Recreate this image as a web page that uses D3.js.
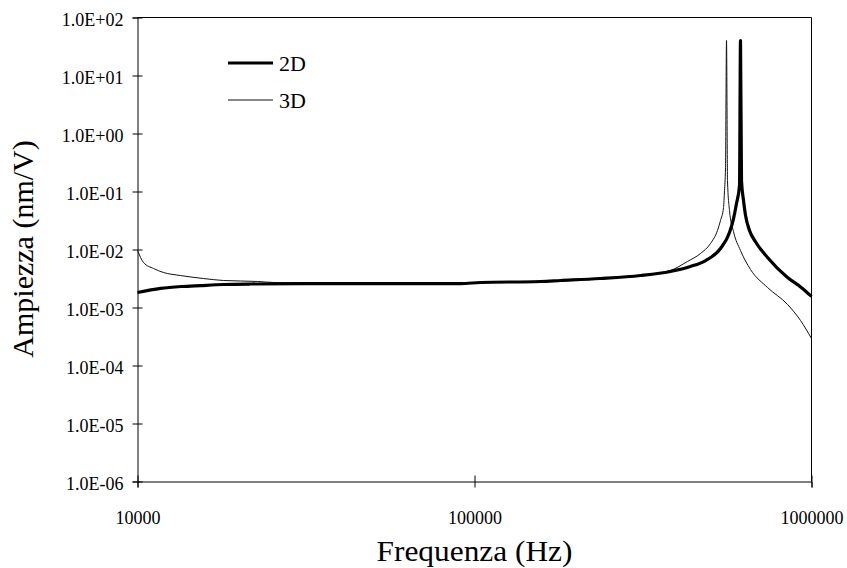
<!DOCTYPE html>
<html>
<head>
<meta charset="utf-8">
<script src="https://cdn.jsdelivr.net/npm/d3@7"></script>
<style>
  html, body { margin: 0; padding: 0; background: #fff; }
  svg { display: block; }
  text { font-family: "Liberation Serif", "Times New Roman", serif; fill: #000; }
</style>
</head>
<body>
<svg id="chart" width="847" height="568"></svg>
<script>
// ---- data ----
const freq2D = [10000, 11700, 13500, 15400, 18000, 21600, 37400, 90900, 104000, 157000, 180000,
  236000, 311000, 381000, 437000, 485000, 537000, 571000, 587000, 599000, 611500, 615600,
  619800, 628400, 637200, 654700, 682100, 740500, 848800, 932000, 1000000];
const amp2D = [1.81e-3, 2.13e-3, 2.30e-3, 2.39e-3, 2.49e-3, 2.54e-3, 2.59e-3, 2.59e-3, 2.70e-3, 2.81e-3, 2.92e-3,
  3.16e-3, 3.56e-3, 4.18e-3, 5.09e-3, 6.46e-3, 1.04e-2, 1.96e-2, 3.42e-2, 6.21e-2, 0.127, 40,
  0.155, 0.070, 0.0386, 0.0213, 0.0136, 7.28e-3, 3.29e-3, 2.22e-3, 1.55e-3];

const freq3D = [10000, 10420, 11160, 11950, 13410, 15700, 18000, 22700, 25330, 37400, 90900,
  104000, 157000, 236000, 311000, 381500, 428500, 468400, 501700, 526100, 537000, 548200,
  551900, 555700, 559500, 563300, 571000, 586800, 615600, 659200, 740500, 848800, 927800, 1000000];
const amp3D = [9.6e-3, 5.97e-3, 4.70e-3, 4.01e-3, 3.56e-3, 3.16e-3, 2.92e-3, 2.81e-3, 2.70e-3, 2.62e-3, 2.62e-3,
  2.72e-3, 2.83e-3, 3.18e-3, 3.60e-3, 4.35e-3, 6.21e-3, 8.53e-3, 1.27e-2, 2.13e-2, 3.16e-2, 5.30e-2,
  0.104, 0.259, 40, 0.155, 4.70e-2, 2.04e-2, 9.6e-3, 4.52e-3, 2.21e-3, 1.13e-3, 5.97e-4, 2.92e-4];

const xTicks = [1e4, 1e5, 1e6];
const xTickLabels = ["10000", "100000", "1000000"];
const yTicks = [1e-6, 1e-5, 1e-4, 1e-3, 1e-2, 1e-1, 1e0, 1e1, 1e2];
const yTickLabels = ["1.0E-06", "1.0E-05", "1.0E-04", "1.0E-03", "1.0E-02", "1.0E-01", "1.0E+00", "1.0E+01", "1.0E+02"];

const seriesNames = ["2D", "3D"];
const xTitle = "Frequenza (Hz)";
const yTitle = "Ampiezza (nm/V)";

// ---- layout ----
const m = { left: 137.5, right: 811.5, top: 17.5, bottom: 481.5 };

const svg = d3.select("#chart");

const x = d3.scaleLog().domain([1e4, 1e6]).range([m.left, m.right]);
const y = d3.scaleLog().domain([1e-6, 1e2]).range([m.bottom, m.top]);

// frame (top & right)
svg.append("line").attr("x1", m.left).attr("x2", m.right).attr("y1", m.top).attr("y2", m.top)
  .attr("stroke", "#000").attr("stroke-width", 1);
svg.append("line").attr("x1", m.right).attr("x2", m.right).attr("y1", m.top).attr("y2", m.bottom)
  .attr("stroke", "#000").attr("stroke-width", 1);

// y axis
const yAxis = svg.append("g")
  .attr("transform", `translate(${m.left},0)`)
  .call(d3.axisLeft(y).tickValues(yTicks).tickFormat((d, i) => yTickLabels[i]).tickSize(5).tickPadding(9));
yAxis.select(".domain").attr("stroke", "#000");
yAxis.selectAll(".tick line").attr("x1", 5).attr("stroke", "#000");
yAxis.selectAll(".tick text")
  .attr("font-family", "Liberation Serif, serif").attr("font-size", 18)
  .attr("dy", "0.45em");

// x axis
const xAxis = svg.append("g")
  .attr("transform", `translate(0,${m.bottom})`)
  .call(d3.axisBottom(x).tickValues(xTicks).tickFormat((d, i) => xTickLabels[i]).tickSize(6).tickPadding(24));
xAxis.select(".domain").attr("stroke", "#000");
xAxis.selectAll(".tick line").attr("y1", -6).attr("stroke", "#000");
xAxis.selectAll(".tick text")
  .attr("font-family", "Liberation Serif, serif").attr("font-size", 18);

// series
const line = d3.line().x(d => x(d[0])).y(d => y(d[1])).curve(d3.curveMonotoneX);
const d2 = freq2D.map((f, i) => [f, amp2D[i]]);
const d3s = freq3D.map((f, i) => [f, amp3D[i]]);

svg.append("path").datum(d3s).attr("d", line)
  .attr("fill", "none").attr("stroke", "#111").attr("stroke-width", 1)
  .attr("stroke-linejoin", "round");
svg.append("path").datum(d2).attr("d", line)
  .attr("fill", "none").attr("stroke", "#000").attr("stroke-width", 3.2)
  .attr("stroke-linejoin", "round");

// legend
const legend = svg.append("g");
const legY = [63, 100];
const legW = [3.2, 1];
seriesNames.forEach((name, i) => {
  legend.append("line").attr("x1", 228).attr("x2", 273).attr("y1", legY[i]).attr("y2", legY[i])
    .attr("stroke", i === 0 ? "#000" : "#111").attr("stroke-width", legW[i]);
  legend.append("text").attr("x", 279).attr("y", legY[i] + 8)
    .attr("font-size", 22).text(name);
});

// axis titles
svg.append("text").attr("x", (m.left + m.right) / 2).attr("y", 561)
  .attr("text-anchor", "middle").attr("font-size", 30)
  .attr("textLength", 196).attr("lengthAdjust", "spacingAndGlyphs")
  .text(xTitle);
svg.append("text")
  .attr("transform", `translate(33,249) rotate(-90)`)
  .attr("text-anchor", "middle").attr("font-size", 30)
  .text(yTitle);
</script>
</body>
</html>
